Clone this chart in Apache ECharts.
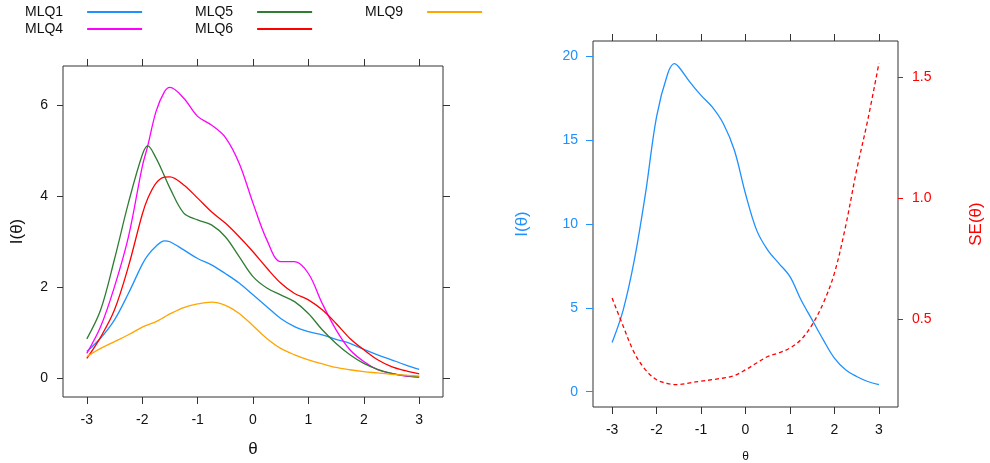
<!DOCTYPE html>
<html>
<head>
<meta charset="utf-8">
<script src="https://cdn.jsdelivr.net/npm/echarts@6/dist/echarts.min.js"></script>
<style>html,body{margin:0;padding:0;background:#fff}#c{width:990px;height:463px}</style>
</head>
<body>
<div id="c"></div>
<script>
// ---- data ----
var theta = [-3,-2.75,-2.5,-2.25,-2,-1.9,-1.75,-1.6,-1.5,-1.25,-1,-0.75,-0.5,-0.25,0,0.25,0.5,0.75,1,1.25,1.5,1.75,2,2.25,2.5,2.75,3];
var MLQ1 = [0.58,0.88,1.28,1.86,2.5,2.7,2.9,3.02,3.0,2.82,2.63,2.49,2.3,2.09,1.83,1.57,1.31,1.13,1.02,0.95,0.85,0.76,0.63,0.51,0.4,0.29,0.19];
var MLQ4 = [0.54,1.13,2.01,3.1,4.65,5.11,5.87,6.3,6.4,6.16,5.76,5.57,5.3,4.73,3.85,3.04,2.56,2.56,2.3,1.64,1.06,0.62,0.36,0.18,0.1,0.04,0.015];
var MLQ5 = [0.86,1.5,2.62,3.85,4.91,5.11,4.84,4.45,4.18,3.63,3.48,3.37,3.11,2.67,2.23,1.98,1.83,1.68,1.42,1.06,0.76,0.51,0.32,0.19,0.1,0.05,0.03];
var MLQ6 = [0.43,0.9,1.5,2.45,3.6,3.95,4.29,4.42,4.43,4.25,3.96,3.66,3.41,3.11,2.78,2.42,2.09,1.86,1.72,1.5,1.2,0.87,0.62,0.4,0.25,0.16,0.09];
var MLQ9 = [0.47,0.65,0.8,0.95,1.12,1.17,1.24,1.34,1.41,1.55,1.63,1.67,1.6,1.42,1.15,0.87,0.65,0.51,0.4,0.31,0.23,0.18,0.14,0.11,0.08,0.06,0.04];

var testTheta = [-3,-2.75,-2.5,-2.25,-2,-1.75,-1.6,-1.5,-1.25,-1,-0.75,-0.5,-0.25,0,0.25,0.5,0.75,1,1.25,1.5,1.75,2,2.25,2.5,2.75,3];
var testInfo = [2.93,4.88,7.85,11.8,16.4,18.95,19.55,19.35,18.45,17.66,16.97,15.98,14.39,11.8,9.63,8.44,7.65,6.86,5.47,4.28,3.09,2.0,1.31,0.91,0.61,0.42];
var testSE = [0.587,0.47,0.36,0.29,0.249,0.233,0.229,0.229,0.236,0.243,0.249,0.256,0.266,0.29,0.318,0.345,0.36,0.38,0.415,0.477,0.566,0.69,0.883,1.117,1.324,1.558];

var xTicks = [-3,-2,-1,0,1,2,3];
var yTicksLeft = [0,2,4,6];
var yTicksInfo = [0,5,10,15,20];
var yTicksSE = [0.5,1.0,1.5];

var itemNames = ['MLQ1','MLQ4','MLQ5','MLQ6','MLQ9'];
var itemValues = [MLQ1, MLQ4, MLQ5, MLQ6, MLQ9];
var itemColors = ['#1E90FF','#FF00FF','#2E7D32','#FF0000','#FFA500'];

// ---- chart ----
var FONT = "'Liberation Sans', Arial, sans-serif";
function pairs(xs, ys){ return xs.map(function(x,i){ return [x, ys[i]]; }); }

function xAx(gi, pos, labels){
  return {
    type:'value', gridIndex:gi, position:pos, min:-3.43, max:3.43,
    axisLine:{show:false, onZero:false}, splitLine:{show:false},
    axisTick:{show:true, inside:false, length:7, customValues:xTicks, lineStyle:{color:'#333', width:1}},
    axisLabel:{show:labels, customValues:xTicks, margin:16, fontSize:14, color:'#111', fontFamily:FONT}
  };
}
// legend icon: a line preceded by an empty gap (text, gap, line)
var LEGEND_ICON = 'path://M0,0M19,0L74,0L74,2L19,2Z';
function legendAt(names, left){
  return {data:names, left:left, top:5, padding:0, orient:'vertical', align:'right', icon:LEGEND_ICON,
    itemWidth:74, itemHeight:2, itemGap:3,
    textStyle:{fontSize:14, color:'#111', fontFamily:FONT}};
}

var option = {
  animation:false,
  backgroundColor:'#fff',
  textStyle:{fontFamily:FONT},
  grid:[
    {left:63, top:66, width:380, height:331, outerBoundsMode:'none', containLabel:false, show:true, borderColor:'#333', borderWidth:1, backgroundColor:'transparent'},
    {left:593, top:41, width:305, height:366, outerBoundsMode:'none', containLabel:false, show:true, borderColor:'#333', borderWidth:1, backgroundColor:'transparent'}
  ],
  legend:[
    legendAt(['MLQ1','MLQ4'], 25),
    legendAt(['MLQ5','MLQ6'], 195),
    legendAt(['MLQ9'], 365)
  ],
  xAxis:[
    Object.assign(xAx(0,'bottom',true), {name:'θ', nameLocation:'middle', nameGap:44, nameTextStyle:{fontSize:17, color:'#111', fontFamily:FONT}}),
    xAx(0,'top',false),
    Object.assign(xAx(1,'bottom',true), {name:'θ', nameLocation:'middle', nameGap:44, nameTextStyle:{fontSize:12, color:'#111', fontFamily:FONT}}),
    xAx(1,'top',false)
  ],
  yAxis:[
    {type:'value', gridIndex:0, position:'left', min:-0.42, max:6.87,
      axisLine:{show:false, onZero:false}, splitLine:{show:false},
      axisTick:{show:true, length:6, customValues:yTicksLeft, lineStyle:{color:'#333'}},
      axisLabel:{customValues:yTicksLeft, margin:15, fontSize:14, color:'#111', fontFamily:FONT},
      name:'I(θ)', nameLocation:'middle', nameGap:37, nameRotate:90,
      nameTextStyle:{fontSize:17, color:'#111', fontFamily:FONT}},
    {type:'value', gridIndex:0, position:'right', min:-0.42, max:6.87,
      axisLine:{show:false, onZero:false}, splitLine:{show:false},
      axisTick:{show:true, length:7, customValues:yTicksLeft, lineStyle:{color:'#333'}},
      axisLabel:{show:false}},
    {type:'value', gridIndex:1, position:'left', min:-0.91, max:20.9,
      axisLine:{show:false, onZero:false}, splitLine:{show:false},
      axisTick:{show:true, length:7, customValues:yTicksInfo, lineStyle:{color:'#1E90FF'}},
      axisLabel:{customValues:yTicksInfo, margin:15, fontSize:14, color:'#1E90FF', fontFamily:FONT},
      name:'I(θ)', nameLocation:'middle', nameGap:62, nameRotate:90,
      nameTextStyle:{fontSize:17, color:'#1E90FF', fontFamily:FONT}},
    {type:'value', gridIndex:1, position:'right', min:0.136, max:1.651,
      axisLine:{show:false, onZero:false}, splitLine:{show:false},
      axisTick:{show:true, length:5, customValues:yTicksSE, lineStyle:{color:'#FF0000'}},
      axisLabel:{customValues:yTicksSE, margin:14, fontSize:14, color:'#FF0000', fontFamily:FONT,
        formatter:function(v){ return v.toFixed(1); }},
      name:'SE(θ)', nameLocation:'middle', nameGap:70, nameRotate:90,
      nameTextStyle:{fontSize:17, color:'#FF0000', fontFamily:FONT}}
  ],
  series: []
};

itemNames.forEach(function(n, i){
  option.series.push({
    name:n, type:'line', xAxisIndex:0, yAxisIndex:0,
    data:pairs(theta, itemValues[i]), smooth:0.35, showSymbol:false, symbol:'none',
    lineStyle:{color:itemColors[i], width:1.3}, itemStyle:{color:itemColors[i]}
  });
});
option.series.push({
  name:'Test information', type:'line', xAxisIndex:2, yAxisIndex:2,
  data:pairs(testTheta, testInfo), smooth:0.35, showSymbol:false, symbol:'none',
  lineStyle:{color:'#1E90FF', width:1.3}
});
option.series.push({
  name:'SE', type:'line', xAxisIndex:2, yAxisIndex:3,
  data:pairs(testTheta, testSE), smooth:0.35, showSymbol:false, symbol:'none',
  lineStyle:{color:'#FF0000', width:1.3, type:[4,3]}
});

var chart = echarts.init(document.getElementById('c'), null, {renderer:'canvas'});
chart.setOption(option);
</script>
</body>
</html>
